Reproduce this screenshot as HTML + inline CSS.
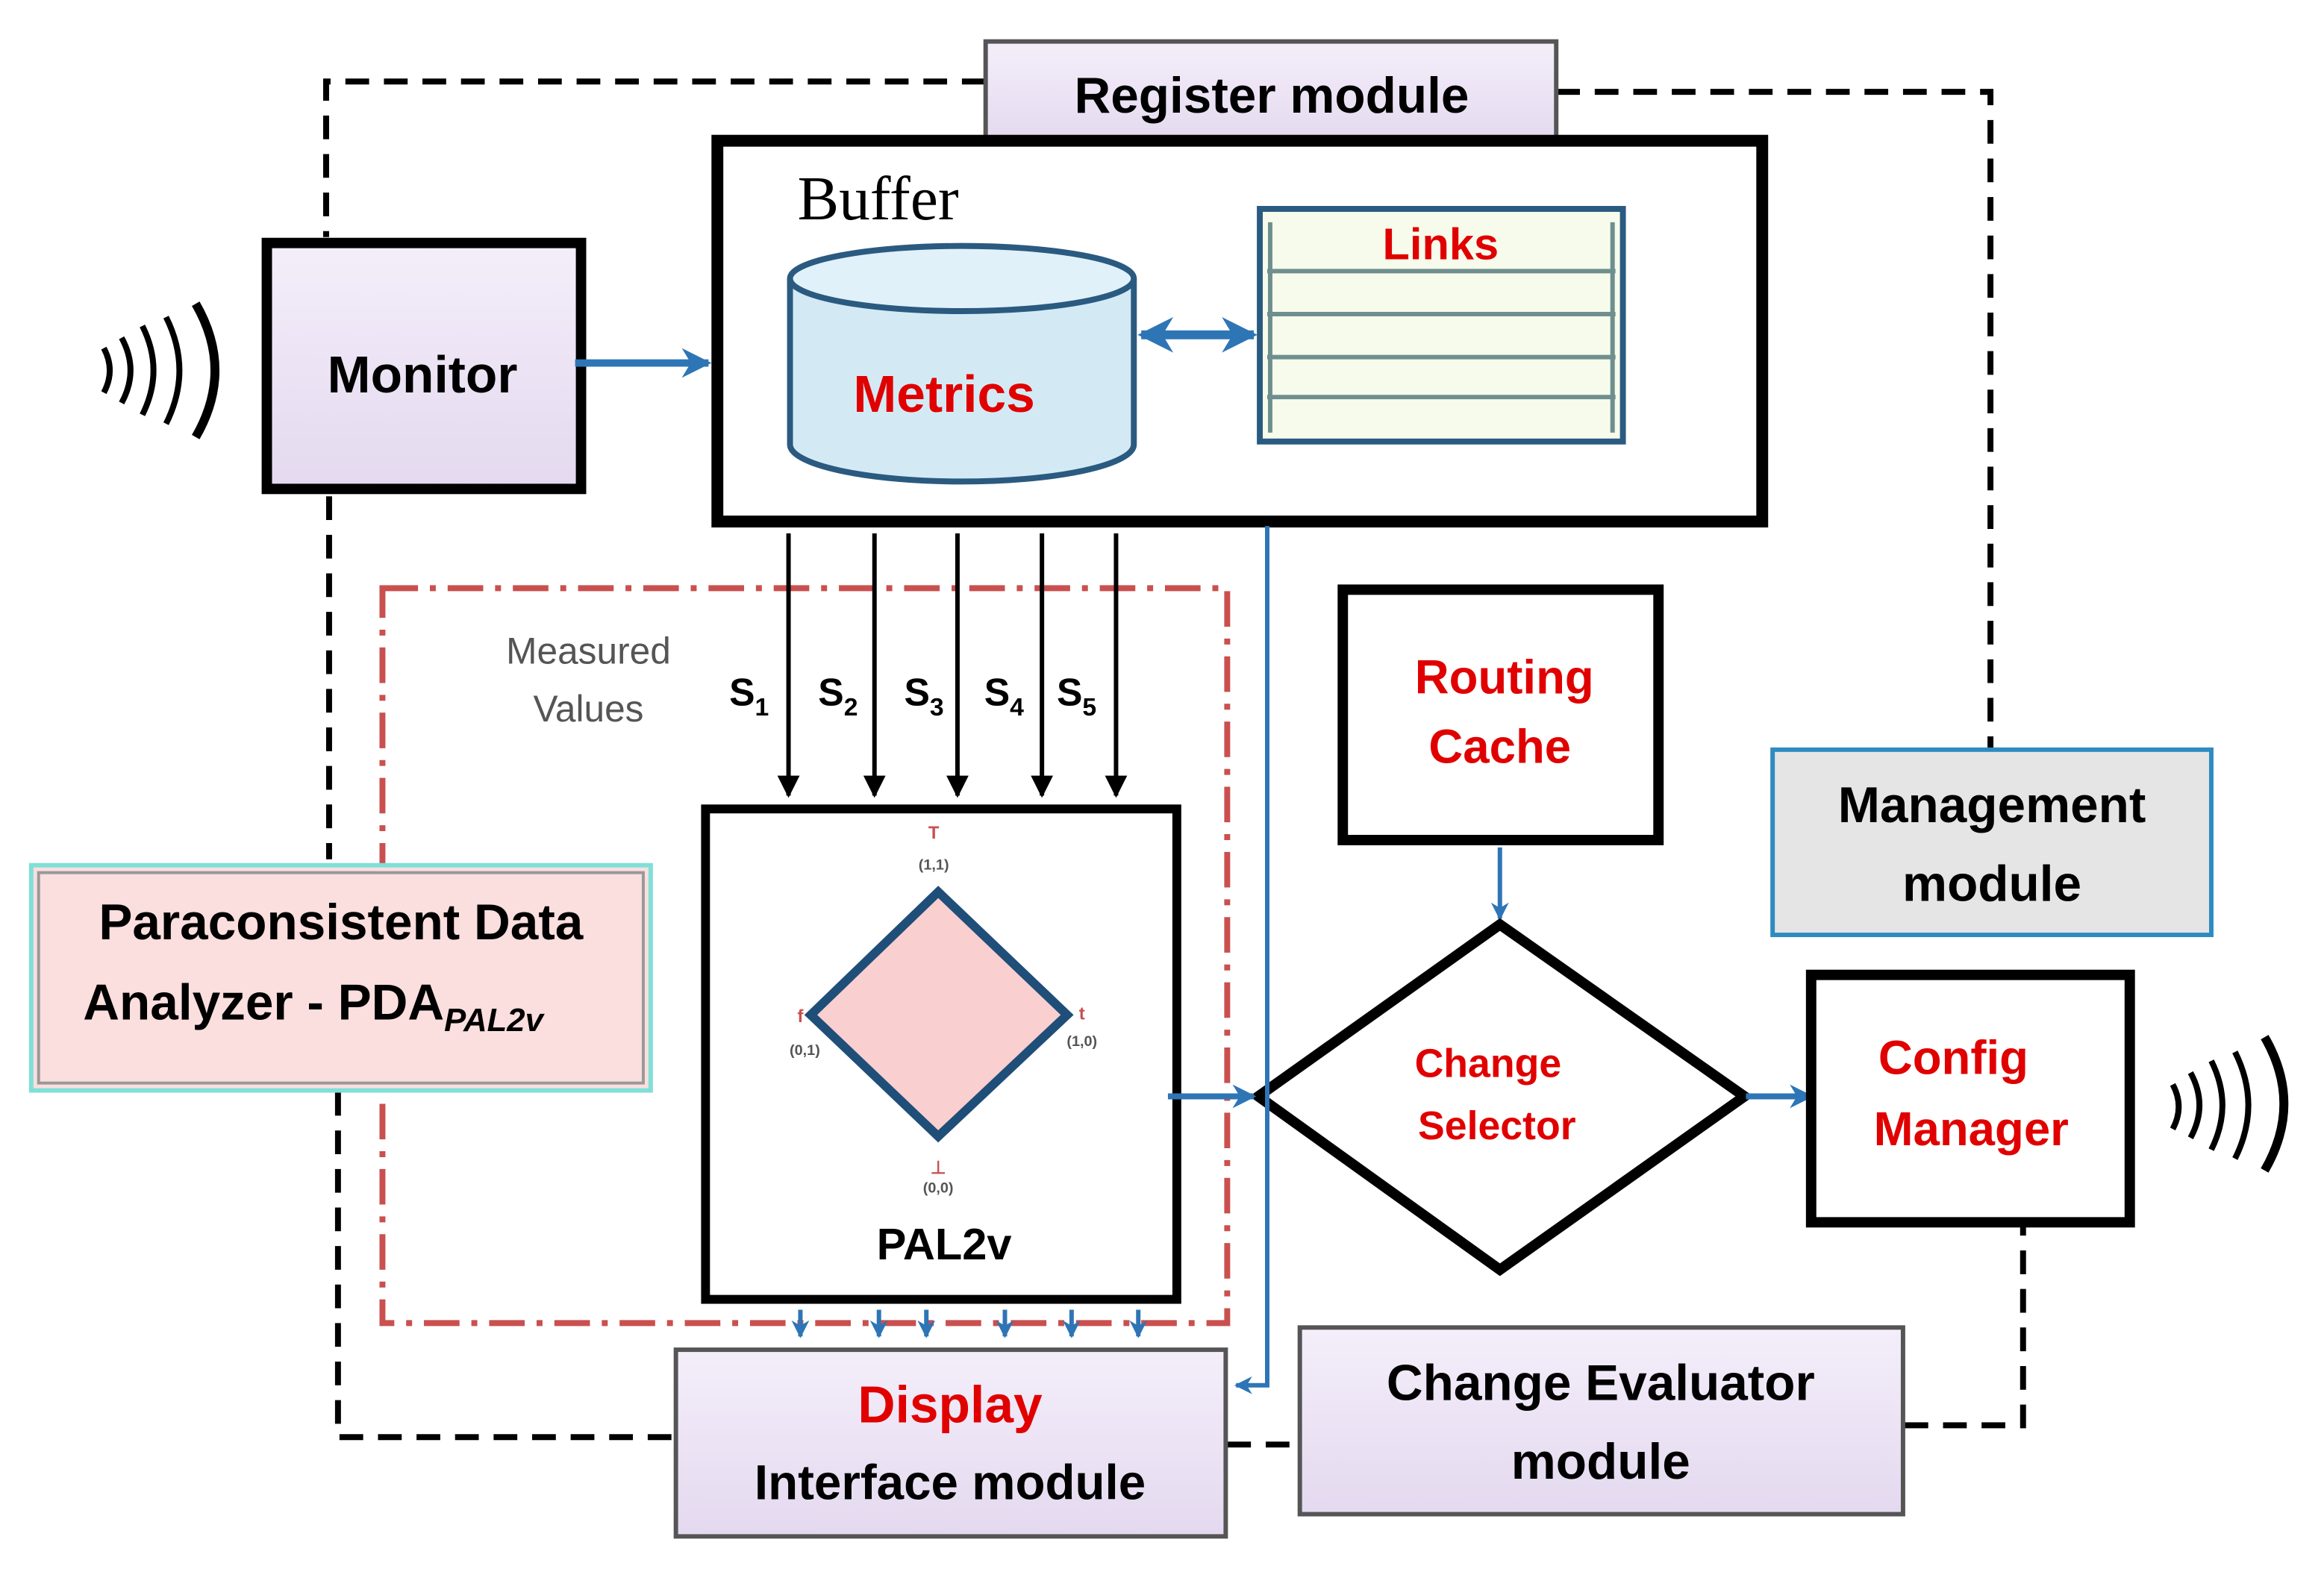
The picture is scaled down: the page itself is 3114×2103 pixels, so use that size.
<!DOCTYPE html>
<html><head><meta charset="utf-8"><style>
html,body{margin:0;padding:0;background:#fff;width:3114px;height:2103px;overflow:hidden}
svg{display:block}
text{font-family:"Liberation Sans",sans-serif;font-weight:bold}
</style></head><body>
<svg width="3114" height="2103" viewBox="0 0 1568 1059" xmlns="http://www.w3.org/2000/svg">
<defs>
<marker id="ab" viewBox="0 0 10 10" refX="9" refY="5" markerWidth="4" markerHeight="4" orient="auto-start-reverse"><path d="M0,0 L10,5 L0,10 L3,5z" fill="#2e75b6"/></marker>
<marker id="ak" viewBox="0 0 10 10" refX="9" refY="5" markerWidth="5" markerHeight="5" orient="auto"><path d="M0,0 L10,5 L0,10z" fill="#000"/></marker>
<linearGradient id="lav" x1="0" y1="0" x2="0" y2="1"><stop offset="0" stop-color="#f4eefa"/><stop offset="1" stop-color="#e4d9ef"/></linearGradient>
</defs>
<!-- dashed outer loop -->
<g stroke="#000" stroke-width="4" fill="none" stroke-dasharray="16,10">
<path d="M665,55 L220,55 L220,160"/>
<path d="M222,335 L222,580"/>
<path d="M228,737 L228,970 L455,970"/>
<path d="M1050,62 L1343,62 L1343,505"/>
<path d="M828,975 L875,975"/>
<path d="M1285,962 L1365,962 L1365,825"/>
</g>
<!-- red dash-dot box -->
<rect x="258" y="397" width="570" height="496" fill="none" stroke="#c9504f" stroke-width="4" stroke-dasharray="24,8,4,8"/>
<!-- register module -->
<rect x="665" y="28" width="385" height="70" fill="url(#lav)" stroke="#555" stroke-width="3"/>
<text x="858" y="76" font-size="34" text-anchor="middle">Register module</text>
<!-- monitor -->
<rect x="180" y="164" width="212" height="166" fill="url(#lav)" stroke="#000" stroke-width="7"/>
<text x="285" y="265" font-size="35" text-anchor="middle">Monitor</text>
<g fill="none" stroke="#000" stroke-width="4">
<path d="M70,235 q8,15 0,30"/><path d="M82,228 q12,22 0,44"/><path d="M96,220 q15,30 0,60"/><path d="M112,214 q18,36 0,72"/><path d="M132,205 q26,45 0,90" stroke-width="6"/>
</g>
<line x1="388" y1="245" x2="478" y2="245" stroke="#2e75b6" stroke-width="5" marker-end="url(#ab)"/>
<!-- buffer -->
<rect x="484" y="95" width="705" height="257" fill="#fff" stroke="#000" stroke-width="8"/>
<text x="538" y="148" font-size="42" font-family="Liberation Serif" font-weight="normal" style="font-family:'Liberation Serif',serif;font-weight:normal">Buffer</text>
<path d="M533,188 L533,300 A116,25 0 0 0 765,300 L765,188" fill="#d3eaf5" stroke="#2b5a80" stroke-width="4"/>
<ellipse cx="649" cy="188" rx="116" ry="22" fill="#e1f1f9" stroke="#2b5a80" stroke-width="4"/>
<text x="637" y="278" font-size="35" fill="#e00000" text-anchor="middle">Metrics</text>
<rect x="850" y="141" width="245" height="157" fill="#f6fbeb" stroke="#2b5a80" stroke-width="4"/>
<g stroke="#6f8f8f" stroke-width="3"><line x1="855" y1="183" x2="1090" y2="183"/><line x1="855" y1="212" x2="1090" y2="212"/><line x1="855" y1="241" x2="1090" y2="241"/><line x1="855" y1="268" x2="1090" y2="268"/><line x1="857" y1="150" x2="857" y2="292"/><line x1="1088" y1="150" x2="1088" y2="292"/></g>
<text x="972" y="175" font-size="30" fill="#e00000" text-anchor="middle">Links</text>
<line x1="770" y1="226" x2="846" y2="226" stroke="#2e75b6" stroke-width="6" marker-end="url(#ab)" marker-start="url(#ab)"/>
<!-- S arrows -->
<g stroke="#000" stroke-width="3" marker-end="url(#ak)">
<line x1="532" y1="360" x2="532" y2="537"/><line x1="590" y1="360" x2="590" y2="537"/><line x1="646" y1="360" x2="646" y2="537"/><line x1="703" y1="360" x2="703" y2="537"/><line x1="753" y1="360" x2="753" y2="537"/>
</g>
<g font-size="26"><text x="492" y="476">S<tspan font-size="17" dy="7">1</tspan></text><text x="552" y="476">S<tspan font-size="17" dy="7">2</tspan></text><text x="610" y="476">S<tspan font-size="17" dy="7">3</tspan></text><text x="664" y="476">S<tspan font-size="17" dy="7">4</tspan></text><text x="713" y="476">S<tspan font-size="17" dy="7">5</tspan></text></g>
<text x="397" y="448" font-size="25" fill="#555" font-weight="normal" text-anchor="middle" style="font-weight:normal">Measured</text>
<text x="397" y="487" font-size="25" fill="#555" text-anchor="middle" style="font-weight:normal">Values</text>
<!-- PAL2v -->
<rect x="476" y="546" width="318" height="331" fill="#fff" stroke="#000" stroke-width="6"/>
<path d="M633,602 L720,685 L633,767 L547,685Z" fill="#f9cfcf" stroke="#1f4e79" stroke-width="6"/>
<g font-size="10" fill="#555"><text x="630" y="587" text-anchor="middle">(1,1)</text><text x="543" y="712" text-anchor="middle">(0,1)</text><text x="730" y="706" text-anchor="middle">(1,0)</text><text x="633" y="805" text-anchor="middle">(0,0)</text></g>
<g font-size="12" fill="#c9504f"><text x="630" y="566" text-anchor="middle">T</text><text x="538" y="690">f</text><text x="728" y="688">t</text><text x="633" y="792" text-anchor="middle">⊥</text></g>
<text x="637" y="850" font-size="30" text-anchor="middle">PAL2v</text>
<!-- PDA -->
<rect x="21" y="584" width="418" height="152" fill="#fbdede" stroke="#7fe0d8" stroke-width="3"/>
<rect x="26" y="589" width="408" height="142" fill="none" stroke="#999" stroke-width="2"/>
<text x="230" y="634" font-size="34" text-anchor="middle">Paraconsistent Data</text>
<text x="56" y="688" font-size="34">Analyzer - PDA<tspan font-size="22" font-style="italic" dy="8">PAL2v</tspan></text>
<!-- routing cache -->
<rect x="906" y="398" width="213" height="169" fill="#fff" stroke="#000" stroke-width="7"/>
<text x="1015" y="468" font-size="32" fill="#e00000" text-anchor="middle">Routing</text>
<text x="1012" y="515" font-size="32" fill="#e00000" text-anchor="middle">Cache</text>
<line x1="1012" y1="572" x2="1012" y2="620" stroke="#2e75b6" stroke-width="3" marker-end="url(#ab)"/>
<!-- change selector -->
<path d="M1012,624 L1177,740 L1012,857 L849,740Z" fill="#fff" stroke="#000" stroke-width="7"/>
<text x="1004" y="727" font-size="27" fill="#e00000" text-anchor="middle">Change</text>
<text x="1010" y="769" font-size="27" fill="#e00000" text-anchor="middle">Selector</text>
<line x1="788" y1="740" x2="846" y2="740" stroke="#2e75b6" stroke-width="4" marker-end="url(#ab)"/>
<line x1="1178" y1="740" x2="1222" y2="740" stroke="#2e75b6" stroke-width="4" marker-end="url(#ab)"/>
<path d="M855,355 L855,935 L834,935" fill="none" stroke="#2e75b6" stroke-width="3" marker-end="url(#ab)"/>
<!-- config manager -->
<rect x="1222" y="658" width="215" height="167" fill="#fff" stroke="#000" stroke-width="7"/>
<text x="1318" y="725" font-size="32" fill="#e00000" text-anchor="middle">Config</text>
<text x="1330" y="773" font-size="32" fill="#e00000" text-anchor="middle">Manager</text>
<g fill="none" stroke="#000" stroke-width="4">
<path d="M1466,732 q8,15 0,30"/><path d="M1478,724 q12,22 0,44"/><path d="M1492,716 q15,30 0,60"/><path d="M1508,710 q18,36 0,72"/><path d="M1528,700 q26,45 0,90" stroke-width="6"/>
</g>
<!-- management -->
<rect x="1196" y="506" width="296" height="125" fill="#e5e5e5" stroke="#2e8bc0" stroke-width="3"/>
<text x="1344" y="555" font-size="34" text-anchor="middle">Management</text>
<text x="1344" y="608" font-size="34" text-anchor="middle">module</text>
<!-- small arrows -->
<g stroke="#2e75b6" stroke-width="3" marker-end="url(#ab)">
<line x1="540" y1="884" x2="540" y2="902"/><line x1="593" y1="884" x2="593" y2="902"/><line x1="625" y1="884" x2="625" y2="902"/><line x1="678" y1="884" x2="678" y2="902"/><line x1="723" y1="884" x2="723" y2="902"/><line x1="768" y1="884" x2="768" y2="902"/>
</g>
<!-- display -->
<rect x="456" y="911" width="371" height="126" fill="url(#lav)" stroke="#555" stroke-width="3"/>
<text x="641" y="960" font-size="35" fill="#e00000" text-anchor="middle">Display</text>
<text x="641" y="1012" font-size="33" text-anchor="middle">Interface module</text>
<!-- change evaluator -->
<rect x="877" y="896" width="407" height="126" fill="url(#lav)" stroke="#555" stroke-width="3"/>
<text x="1080" y="945" font-size="34" text-anchor="middle">Change Evaluator</text>
<text x="1080" y="998" font-size="34" text-anchor="middle">module</text>
</svg>
</body></html>
